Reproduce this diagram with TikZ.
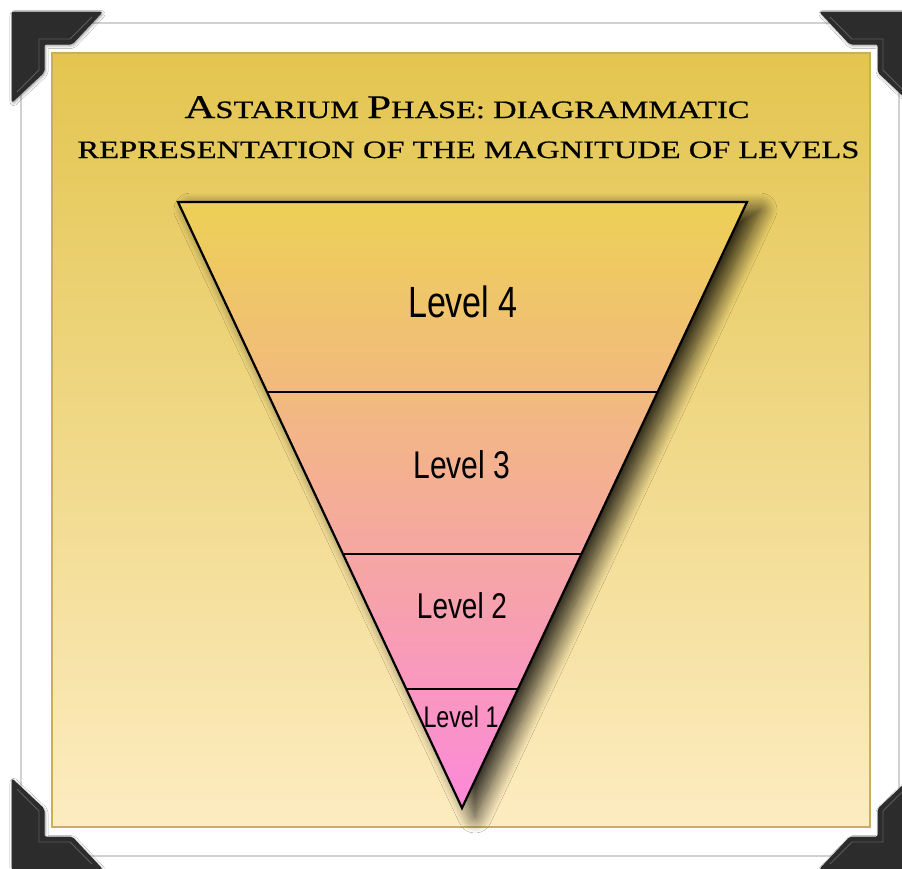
\documentclass[tikz,border=0pt]{standalone}
\usepackage{fontspec}
\usetikzlibrary{shadows.blur,calc}
\newfontfamily\lvlfont[FakeStretch=0.78]{Liberation Sans}
\newfontfamily\ttlfont[FakeStretch=1.3,FakeBold=0.6]{Liberation Serif}
\definecolor{panTop}{HTML}{E3C54F}
\definecolor{panBot}{HTML}{FDECC1}
\definecolor{panEdge}{HTML}{C9AE5E}
\definecolor{triTop}{HTML}{EDD055}
\definecolor{triMid}{HTML}{F4AD95}
\definecolor{triBot}{HTML}{FC89DA}
\definecolor{cornerFill}{HTML}{2C2C2C}
\definecolor{cornerLine}{HTML}{5C5C5C}
\newcommand\ttlbig[1]{{\fontsize{33}{33}\selectfont #1}}
\tikzset{
  lvl/.style={inner sep=0pt, text=black},
  divider/.style={line width=1.8pt, black},
  corner/.style={fill=cornerFill, draw=cornerFill, line width=1pt, rounded corners=2pt,
     blur shadow={shadow xshift=1pt, shadow yshift=-1.5pt, shadow blur radius=3pt, shadow opacity=45}},
  cornerbevel/.style={draw=cornerLine, line width=0.9pt},
  ttl/.style={inner sep=0pt, anchor=base, font=\ttlfont\fontsize{25}{25}\selectfont}
}
\begin{document}
\begin{tikzpicture}[x=1pt,y=-1pt]
\useasboundingbox (0,0) rectangle (902,868);
\fill[white] (0,0) rectangle (902,868);
% card
\draw[black!18, line width=2pt] (21,23) rectangle (899,856);
\fill[white] (22,24) rectangle (898,855);
% panel
\shade[top color=panTop, bottom color=panBot] (52,53) rectangle (870,827);
\draw[panEdge, line width=1.3pt] (52,53) rectangle (870,827);
% title
\node[ttl] (t1) at (467,118) {\ttlbig{A}STARIUM \ttlbig{P}HASE: DIAGRAMMATIC};
\node[ttl] (t2) at (468.5,158) {REPRESENTATION OF THE MAGNITUDE OF LEVELS};
% triangle
\coordinate (tl) at (178,202);
\coordinate (tr) at (747,202);
\coordinate (ap) at (462,808);
\path[blur shadow={shadow xshift=13pt, shadow yshift=-8pt, shadow blur radius=17pt, shadow blur steps=20, shadow opacity=85},
      top color=triTop, middle color=triMid, bottom color=triBot] (tl) -- (tr) -- (ap) -- cycle;
\draw[divider] ($(tl)!0.3135!(ap)$) -- ($(tr)!0.3135!(ap)$);
\draw[divider] ($(tl)!0.5809!(ap)$) -- ($(tr)!0.5809!(ap)$);
\draw[divider] ($(tl)!0.8036!(ap)$) -- ($(tr)!0.8036!(ap)$);
\draw[line width=2.2pt, line join=miter, black] (tl) -- (tr) -- (ap) -- cycle;
% labels
\node[lvl, font=\lvlfont\fontsize{43.7}{50}\selectfont] (l4) at (463,302) {Level 4};
\node[lvl, font=\lvlfont\fontsize{38.6}{44}\selectfont] (l3) at (462,465) {Level 3};
\node[lvl, font=\lvlfont\fontsize{35.8}{40}\selectfont] (l2) at (462,606) {Level 2};
\node[lvl, font=\lvlfont\fontsize{29.8}{34}\selectfont] (l1) at (461,717) {Level 1};
% photo corners
\path[corner] (12,12) -- (102,12) -- (72,44) -- (44,44) -- (44,72) -- (12,102) -- cycle;
\draw[cornerbevel] (92,17) -- (70,39) -- (39,39) -- (39,70) -- (17,92);
\path[corner] (910,12) -- (820,12) -- (850,44) -- (878,44) -- (878,72) -- (910,102) -- cycle;
\draw[cornerbevel] (830,17) -- (852,39) -- (883,39) -- (883,70) -- (905,92);
\path[corner] (12,869) -- (102,869) -- (72,837) -- (44,837) -- (44,809) -- (12,779) -- cycle;
\draw[cornerbevel] (92,864) -- (70,842) -- (39,842) -- (39,811) -- (17,789);
\path[corner] (910,869) -- (820,869) -- (850,837) -- (878,837) -- (878,809) -- (910,779) -- cycle;
\draw[cornerbevel] (830,864) -- (852,842) -- (883,842) -- (883,811) -- (905,789);
\end{tikzpicture}
\end{document}
